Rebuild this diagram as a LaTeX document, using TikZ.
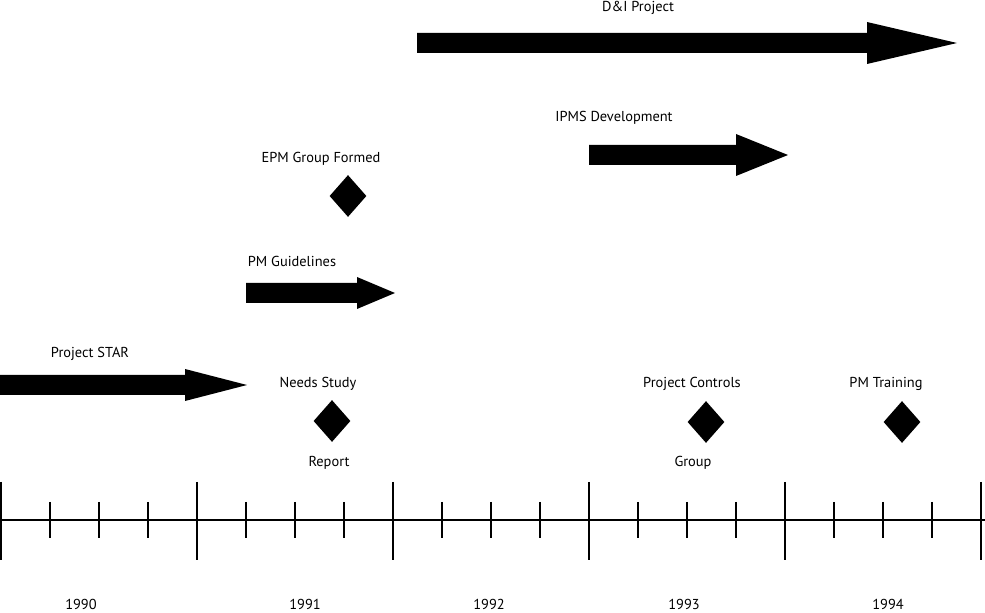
\documentclass[tikz,border=0pt]{standalone}
\usepackage{fontspec}
\setmainfont{PT Sans}
\usetikzlibrary{shapes.geometric}

% fat arrows: start x, shaft end x, tip x, mid y, head half-height
\newcommand{\fatarrow}[5]{%
  \fill (#1,#4-10) -- (#2,#4-10) -- (#2,#4-#5) -- (#3,#4)
    -- (#2,#4+#5) -- (#2,#4+10) -- (#1,#4+10) -- cycle;}

\begin{document}
\begin{tikzpicture}[x=0.2mm, y=-0.2mm,
  every node/.style={font=\fontsize{8.2}{10}\selectfont, inner sep=0pt},
  milestone/.style={diamond, fill=black, minimum width=7.4mm,
                    minimum height=8.4mm, inner sep=0pt},
  yearlbl/.style={anchor=center},
  axis/.style={line width=0.65pt},
]
  \useasboundingbox (0,0) rectangle (985,613);

  \node (dni) at (638,8) {D\&I Project};
  \fatarrow{417}{867}{957}{43}{21}

  \node (ipms) at (614,118) {IPMS Development};
  \fatarrow{589}{736}{788}{155}{21}

  \node (epm) at (321,159) {EPM Group Formed};
  \node[milestone] (epmmark) at (348,196) {};

  \node (pmg) at (292,261) {PM Guidelines};
  \fatarrow{246}{357}{395}{293}{16}

  \node (star) at (90,354) {Project STAR};
  \fatarrow{0}{185}{247}{385}{16}

  \node (needs) at (318,384) {Needs Study};
  \node[milestone] (needsmark) at (332,421) {};
  \node (report) at (329,463) {Report};

  \node (ctrl) at (692,384) {Project Controls};
  \node[milestone] (ctrlmark) at (706,422) {};
  \node (ctrlgrp) at (693,463) {Group};

  \node (train) at (886,384) {PM Training};
  \node[milestone] (trainmark) at (902,422) {};

  % time axis
  \draw[axis] (0,520) -- (985,520);
  \foreach \k in {0,...,5}
    \draw[axis] (1+196*\k,482) -- (1+196*\k,560);
  \foreach \k in {0,...,4}
    \foreach \q in {1,2,3}
      \draw[axis] (1+196*\k+49*\q,502) -- (1+196*\k+49*\q,538);

  \node[yearlbl] (y1990) at (81,604) {1990};
  \node[yearlbl] (y1991) at (305,604) {1991};
  \node[yearlbl] (y1992) at (489,604) {1992};
  \node[yearlbl] (y1993) at (684,604) {1993};
  \node[yearlbl] (y1994) at (888,604) {1994};
\end{tikzpicture}
\end{document}
